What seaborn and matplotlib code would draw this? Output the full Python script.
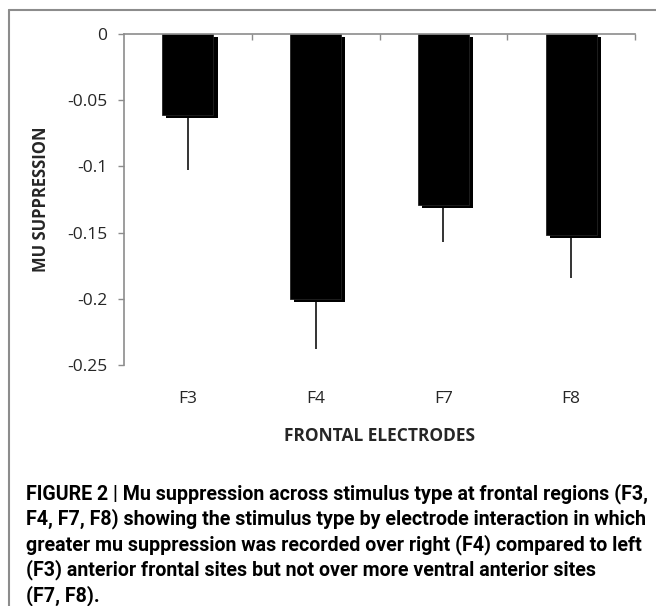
import seaborn as sns
import matplotlib.pyplot as plt
import matplotlib.patheffects as pe
from matplotlib.lines import Line2D
import pandas as pd

electrodes = ["F3", "F4", "F7", "F8"]
mu_suppression = [-0.061, -0.2, -0.129, -0.152]
err_lower = [0.042, 0.038, 0.028, 0.032]

caption = ("FIGURE 2 | Mu suppression across stimulus type at frontal regions (F3,\n"
           "F4, F7, F8) showing the stimulus type by electrode interaction in which\n"
           "greater mu suppression was recorded over right (F4) compared to left\n"
           "(F3) anterior frontal sites but not over more ventral anterior sites\n"
           "(F7, F8).")

df = pd.DataFrame({"electrode": electrodes, "mu": mu_suppression})

sns.set_style("white")
plt.rcParams["font.family"] = ["Open Sans", "DejaVu Sans"]

fig = plt.figure(figsize=(6.56, 6.06), dpi=100)
ax = fig.add_axes([124 / 656, 1 - 365 / 606, (635 - 124) / 656, (365 - 34) / 606])

# error bars (lower only), drawn behind the bars
ax.errorbar(range(len(electrodes)), mu_suppression, yerr=[err_lower, [0] * 4],
            fmt="none", ecolor="#333333", elinewidth=1.4, capsize=0, zorder=1)

sns.barplot(data=df, x="electrode", y="mu", color="black", width=0.4,
            errorbar=None, ax=ax, zorder=2, saturation=1)
for p in ax.patches:
    p.set_edgecolor("#222222")
    p.set_linewidth(0.6)
    p.set_path_effects([pe.SimplePatchShadow(offset=(3, -2), shadow_rgbFace="black", alpha=1),
                        pe.Normal()])

ax.set_ylim(-0.25, 0)
ax.set_xlim(-0.5, len(electrodes) - 0.5)
ax.set_yticks([0, -0.05, -0.1, -0.15, -0.2, -0.25])
ax.set_yticklabels(["0", "-0.05", "-0.1", "-0.15", "-0.2", "-0.25"], fontsize=12.5)

# category labels at the bottom, boundary ticks on the zero line at the top
ax.set_xticks(range(len(electrodes)))
ax.set_xticklabels(electrodes, fontsize=12.5)
ax.set_xticks([0.5, 1.5, 2.5, 3.5], minor=True)
ax.tick_params(axis="x", which="major", bottom=True, top=False, length=0, pad=19)
ax.tick_params(axis="x", which="minor", bottom=False, top=True, direction="in",
               length=4, width=1, color="#8c8c8c")
ax.tick_params(axis="y", direction="out", length=4, width=1, color="#8c8c8c",
               left=True, pad=8)
ax.set_xlabel("FRONTAL ELECTRODES", fontsize=12.5, fontweight="bold", labelpad=14)
ax.set_ylabel("MU SUPPRESSION", fontsize=12, fontweight="bold", labelpad=12)

for side in ["right", "bottom"]:
    ax.spines[side].set_visible(False)
for side in ["left", "top"]:
    ax.spines[side].set_color("#8c8c8c")
    ax.spines[side].set_linewidth(1.2)

fig.text(26 / 656, 1 - 483 / 606, caption, ha="left", va="top", fontsize=14.1,
         fontweight="bold", linespacing=1.3, color="black",
         family=["Roboto", "DejaVu Sans"])

# frame lines around the figure panel
fig.add_artist(Line2D([8.5 / 656, 8.5 / 656], [0, 1 - 10 / 606], color="#8c8c8c", lw=1.5))
fig.add_artist(Line2D([8.5 / 656, 1], [1 - 10 / 606, 1 - 10 / 606], color="#8c8c8c", lw=1.5))

fig.savefig("out.png", dpi=100)
